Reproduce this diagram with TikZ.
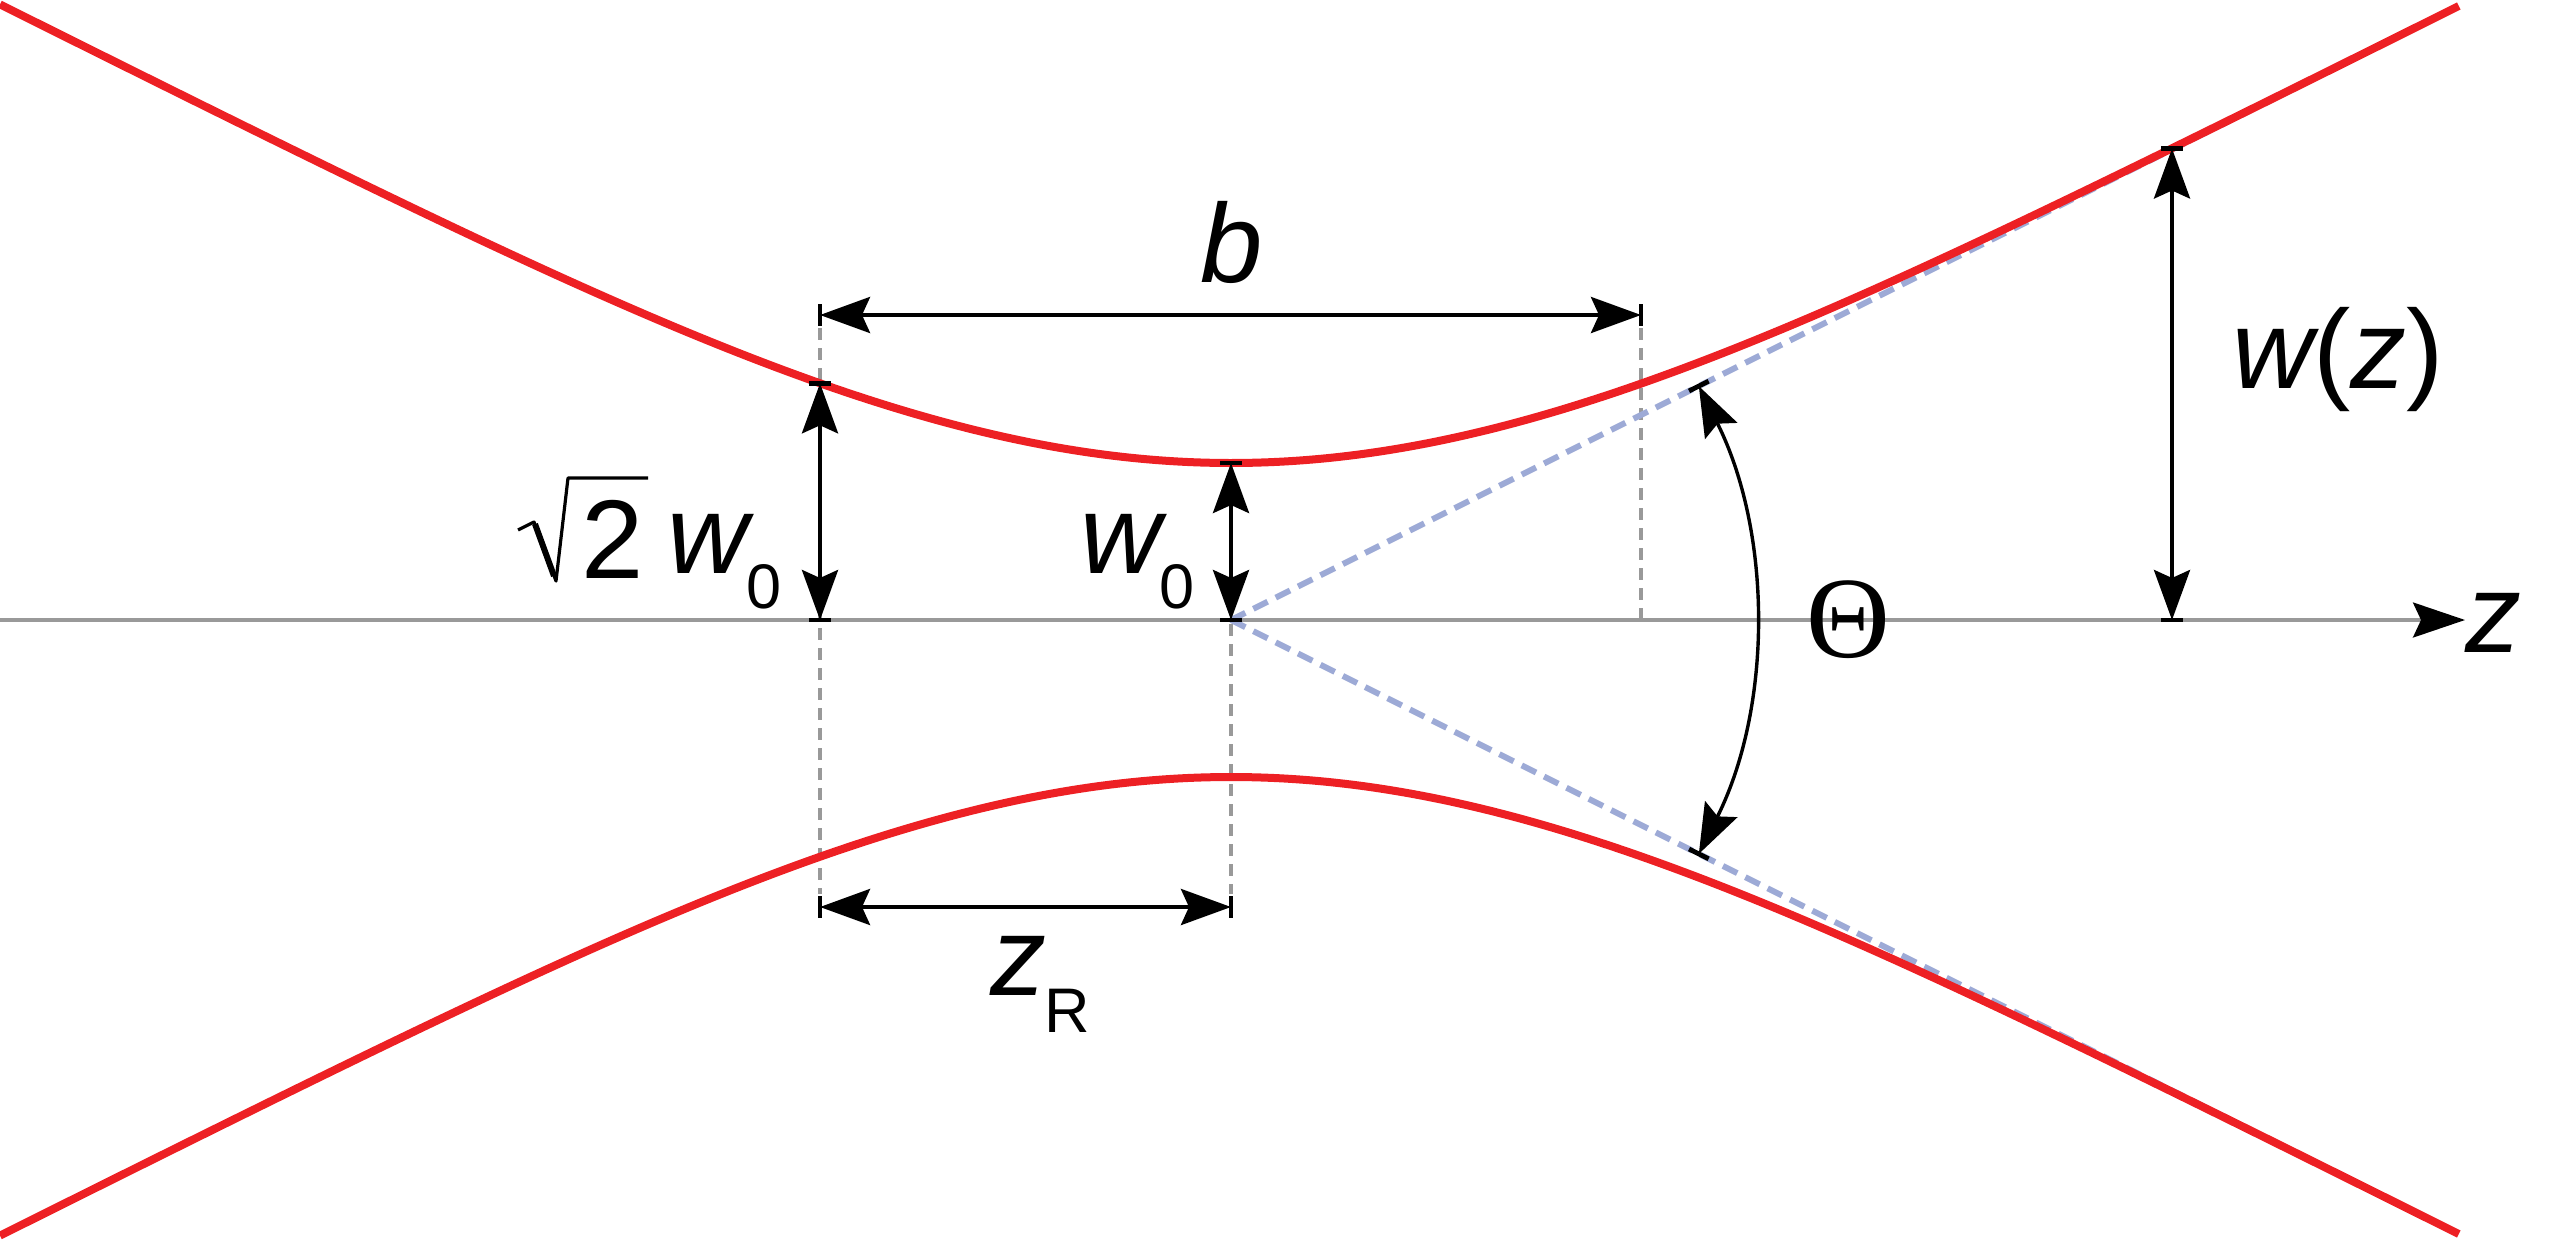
\documentclass[tikz,border=0pt]{standalone}
\usepackage{fontspec}
\setmainfont{Liberation Sans}
\newfontfamily\thetafont{Liberation Serif}
\usetikzlibrary{arrows.meta}
\definecolor{beamred}{RGB}{237,32,36}
\definecolor{asymblue}{RGB}{157,170,214}
\definecolor{guidegray}{RGB}{153,153,153}
\newcommand{\subzero}[1]{\raisebox{-17.5pt}{\fontsize{31.5}{34}\selectfont\upshape #1}}
\begin{document}
\begin{tikzpicture}[x=0.5pt,y=-0.5pt,
  >={Stealth[length=25pt,width=18pt,inset=4pt]},
  beam/.style={beamred,line width=4pt},
  asym/.style={asymblue,line width=3pt,dash pattern=on 8pt off 4.5pt},
  guide/.style={guidegray,line width=1.6pt,dash pattern=on 6pt off 4pt},
  axisline/.style={guidegray,line width=1.6pt,-{Stealth[length=26pt,width=17.5pt,inset=4pt,color=black]}},
  dimarrow/.style={black,line width=2.1pt,<->},
  thetaarc/.style={black,line width=1.7pt,<->},
  tickmark/.style={black,line width=2.4pt},
  mainlbl/.style={font=\fontsize{56}{60}\selectfont\itshape,inner sep=0pt,anchor=base},
  mainup/.style={font=\fontsize{56}{60}\selectfont,inner sep=0pt,anchor=base},
  sublbl/.style={font=\fontsize{31.5}{34}\selectfont,inner sep=0pt,anchor=base}]
\useasboundingbox (0,0) rectangle (2560,1242);

% named points
\coordinate (O) at (1231,620);
\coordinate (axL) at (0,620);
\coordinate (axR) at (2465,620);
\coordinate (bl) at (820,315);
\coordinate (br) at (1641,315);
\coordinate (zRl) at (820,907);
\coordinate (zRr) at (1231,907);
\coordinate (rtop) at (820,383.3);
\coordinate (rbot) at (820,620);
\coordinate (w0top) at (1231,463);
\coordinate (wztop) at (2172,148.5);
\coordinate (wzbot) at (2172,620);
\coordinate (asU) at (2459,6);
\coordinate (asD) at (2459,1234);
\coordinate (thU) at (1698.8,386.1);
\coordinate (thD) at (1698.8,853.9);
\coordinate (gLt) at (820,328);
\coordinate (gLb) at (820,894);
\coordinate (gCb) at (1231,894);
\coordinate (gRt) at (1641,328);
\coordinate (gRb) at (1641,620);

% axis and guides
\draw[axisline] (axL) -- (axR);
\draw[guide] (gLt) -- (gLb);
\draw[guide] ([yshift=-2pt]O) -- (gCb);
\draw[guide] (gRt) -- (gRb);

% asymptotes
\draw[asym] (O) -- (asU);
\draw[asym] (O) -- (asD);

% beam envelope
\draw[beam] plot[domain=-12.31:12.28,samples=241,smooth]
  ({1231+100*\x},{620-100*sqrt(0.25*(\x)*(\x)+2.4649*exp(-1*((\x)/5.4)*((\x)/5.4)))});
\draw[beam] plot[domain=-12.31:12.28,samples=241,smooth]
  ({1231+100*\x},{620+100*sqrt(0.25*(\x)*(\x)+2.4649*exp(-1*((\x)/5.4)*((\x)/5.4)))});

% dimension arrows
\draw[dimarrow] (bl) -- (br);
\draw[dimarrow] (zRl) -- (zRr);
\draw[dimarrow] (rtop) -- (rbot);
\draw[dimarrow] (w0top) -- (O);
\draw[dimarrow] (wztop) -- (wzbot);
\draw[thetaarc] (thU) arc[start angle=-26.57,end angle=26.57,radius=523];

% tick marks
\foreach \p in {bl,br,zRl,zRr}
  \draw[tickmark] ([yshift=5.5pt]\p) -- ([yshift=-5.5pt]\p);
\foreach \p in {rtop,rbot,w0top,O,wztop,wzbot}
  \draw[tickmark] ([xshift=-5.5pt]\p) -- ([xshift=5.5pt]\p);
\draw[tickmark] (1689.0,391.0) -- (1708.6,381.2);
\draw[tickmark] (1689.0,849.0) -- (1708.6,858.8);

% labels
\node[mainlbl] (blbl) at (1232,282) {b};
\node[mainlbl] (wzlbl) at (2338,388) {w\upshape(\itshape z\upshape)};
\node[mainlbl,anchor=base west] (w0lbl) at (1080,573) {w\kern-1pt\subzero{0}};
\node[mainup] (sq2) at (613,578) {2};
\node[mainlbl,anchor=base west] (sqw) at (667,573) {w\kern-1pt\subzero{0}};
\draw[black,line width=1.6pt,line join=round] (518,530) -- (534,522) -- (556,581) -- (568,478) -- (648,478);
\draw[black,line width=3pt] (535,524) -- (554,576);
\node[mainlbl,anchor=base west] (zRlbl) at (990,995) {z\kern-1pt\raisebox{-18.5pt}{\fontsize{31.5}{34}\selectfont\upshape R}};
\node[mainlbl] (zax) at (2493,652) {z};
\node[font=\fontsize{58}{62}\selectfont\thetafont,inner sep=0pt] (th) at (1848,620) {Θ};
\end{tikzpicture}
\end{document}
